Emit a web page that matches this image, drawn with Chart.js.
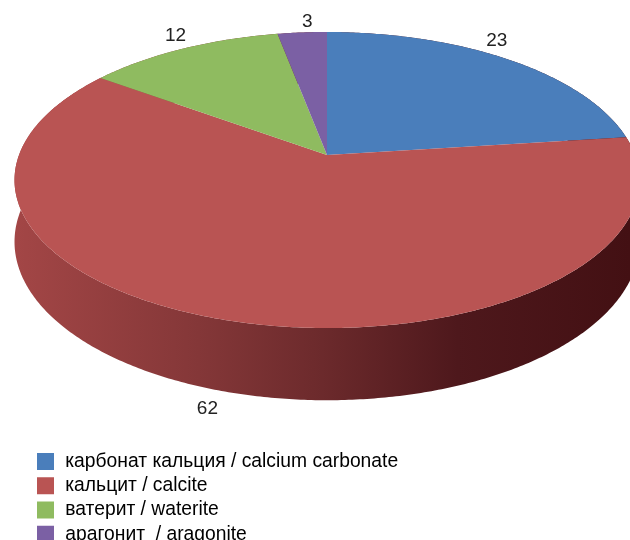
<!DOCTYPE html>
<html>
<head>
<meta charset="utf-8">
<style>
  html, body { margin: 0; padding: 0; background: #fff; overflow: hidden; }
  canvas { display: block; }
</style>
<script src="https://cdn.jsdelivr.net/npm/chart.js@4"></script>
</head>
<body>
<canvas id="pieChart" width="630" height="540"></canvas>
<script>
var categories = ["карбонат кальция / calcium carbonate", "кальцит / calcite", "ватерит / waterite", "арагонит  / aragonite"];
var values = [23, 62, 12, 3];
var colors = ["#4a7ebb", "#b95453", "#8fbb60", "#7b60a4"];

// perspective of the tilted disc
var cx = 327, cy = 155, rx = 308, ry = 117.6, tilt = -0.169, depth = 60;
// where each number sits relative to the rim point in the middle of its slice
var labelShift = [[-11, -19], [-28, 87], [-7, -13], [5, -11]];

function project(angle, drop) {
  var u = Math.cos(angle), v = Math.sin(angle);
  var w = 1 + tilt * v;
  return { x: cx + rx * u / w, y: (cy + ry * v + drop) / w };
}

function rim(ctx, start, end, drop) {
  var steps = Math.max(2, Math.ceil(Math.abs(end - start) / 0.01));
  for (var i = 0; i <= steps; i++) {
    var p = project(start + (end - start) * i / steps, drop);
    ctx.lineTo(p.x, p.y);
  }
}

var disc3d = {
  id: "disc3d",
  beforeDatasetsDraw: function (chart) {
    var ctx = chart.ctx;
    var arcs = chart.getDatasetMeta(0).data;
    var sideFill = ctx.createLinearGradient(14, 0, 630, 0);
    sideFill.addColorStop(0, "#a34646");
    sideFill.addColorStop(0.3, "#843738");
    sideFill.addColorStop(0.5, "#6c2a2c");
    sideFill.addColorStop(0.72, "#4e181c");
    sideFill.addColorStop(1, "#431013");

    ctx.save();
    // side wall first, the top faces then cover whatever is behind
    arcs.forEach(function (arc, i) {
      ctx.beginPath();
      rim(ctx, arc.startAngle, arc.endAngle, 0);
      rim(ctx, arc.endAngle, arc.startAngle, depth);
      ctx.closePath();
      ctx.fillStyle = sideFill;
      ctx.fill();
    });
    arcs.forEach(function (arc, i) {
      ctx.beginPath();
      ctx.moveTo(cx, cy);
      rim(ctx, arc.startAngle, arc.endAngle, 0);
      ctx.closePath();
      ctx.fillStyle = colors[i];
      ctx.fill();
    });
    // numbers
    ctx.fillStyle = "#222";
    ctx.font = "19px 'Liberation Sans'";
    ctx.textAlign = "center";
    ctx.textBaseline = "middle";
    arcs.forEach(function (arc, i) {
      var p = project((arc.startAngle + arc.endAngle) / 2, 0);
      ctx.fillText(String(values[i]), p.x + labelShift[i][0], p.y + labelShift[i][1]);
    });
    ctx.restore();
    return false;
  }
};

var myPieChart = new Chart(document.getElementById("pieChart").getContext("2d"), {
  type: "pie",
  data: {
    labels: categories,
    datasets: [{ data: values, backgroundColor: colors, borderWidth: 0 }]
  },
  options: {
    responsive: false,
    animation: false,
    layout: { padding: { left: 32, bottom: -9 } },
    plugins: {
      tooltip: { enabled: false },
      legend: {
        position: "left",
        align: "end",
        maxWidth: 500,
        onClick: null,
        labels: {
          boxWidth: 17,
          boxHeight: 17,
          padding: 5,
          color: "#333",
          font: { family: "'Liberation Sans'", size: 19.3 },
          generateLabels: function (chart) {
            return categories.map(function (name, i) {
              return { text: "\u200a" + name, fillStyle: colors[i], strokeStyle: colors[i], lineWidth: 0, index: i };
            });
          }
        }
      }
    }
  },
  plugins: [disc3d]
});
</script>
</body>
</html>
